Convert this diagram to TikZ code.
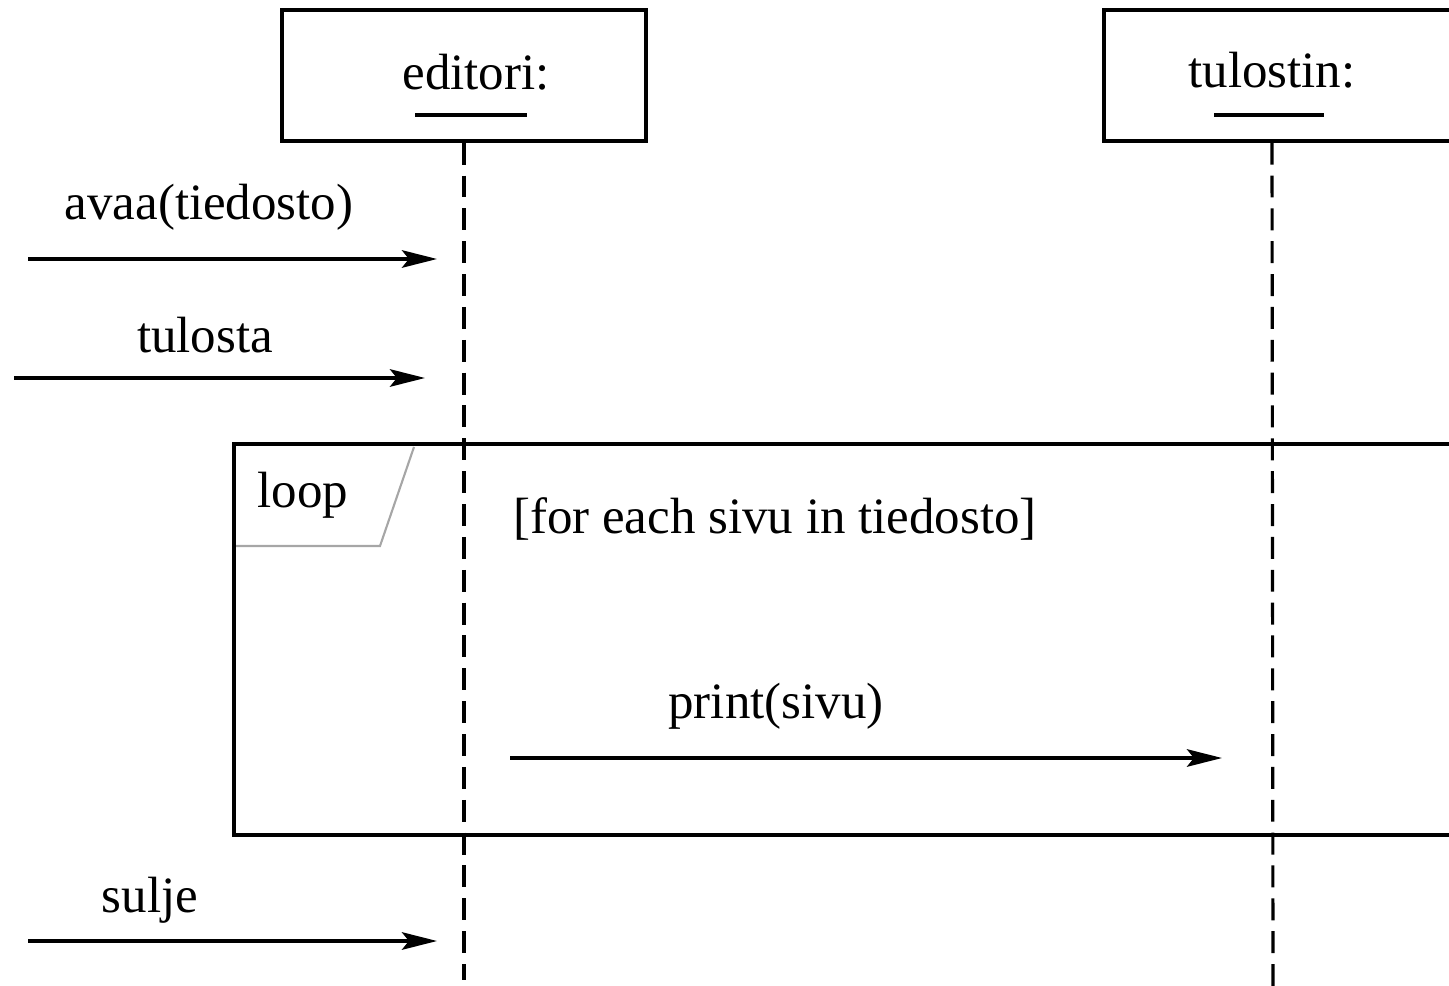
\documentclass[tikz,border=0pt]{standalone}
\usepackage{fontspec}
\setmainfont{Liberation Serif}
\usetikzlibrary{arrows.meta,calc}
\begin{document}
\begin{tikzpicture}[x=0.02cm, y=-0.02cm,
    objbox/.style={draw, line width=1.9pt, minimum width=7.28cm, minimum height=2.62cm},
    lifeline/.style={line width=1.8pt, dash pattern=on 12.5pt off 6.2pt},
    msg/.style={line width=1.8pt, -{Stealth[length=20pt, width=10pt, inset=4pt]}},
    lbl/.style={anchor=base, inner sep=0pt, font=\fontsize{29}{34}\selectfont},
    uline/.style={line width=2.2pt},
    frame/.style={line width=2.2pt},
    tag/.style={line width=1.2pt, draw=black!35}]
    \clip (0,0) rectangle (1449,986);

    % Objects
    \node[objbox] (editori) at (464,75.5) {};
    \node[objbox] (tulostin) at (1286,75.5) {};
    \node[lbl] (edname) at (476,90) {editori:};
    \node[lbl] (tuname) at (1272,88) {tulostin:};
    \draw[uline] ($(edname.base)+(-61,25)$) -- ($(edname.base)+(51,25)$);
    \draw[uline] ($(tuname.base)+(-58,27)$) -- ($(tuname.base)+(52,27)$);

    % Lifelines
    \coordinate (edend) at (464,980);
    \coordinate (tuend) at (1273,990);
    \draw[lifeline] (editori.south) -- (edend);
    \draw[lifeline] (tuname |- tulostin.south) -- (tuend);

    % Messages to editori
    \coordinate (avaa0) at (28,259);
    \coordinate (avaa1) at (437,259);
    \draw[msg] (avaa0) -- (avaa1);
    \node[lbl] (avaa) at (209,220) {avaa(tiedosto)};

    \coordinate (tulosta0) at (14,378);
    \coordinate (tulosta1) at (425,378);
    \draw[msg] (tulosta0) -- (tulosta1);
    \node[lbl] (tulosta) at (205,352) {tulosta};

    % Loop fragment
    \draw[tag] (234,546) -- (380,546) -- (414,447);
    \draw[frame] (234,444) rectangle (1470,835);
    \node[lbl] (loop) at (303,507) {loop};
    \node[lbl] (guard) at (775,533) {[for each sivu in tiedosto]};

    \coordinate (print0) at (510,758);
    \coordinate (print1) at (1222,758);
    \draw[msg] (print0) -- (print1);
    \node[lbl] (print) at (776,718) {print(sivu)};

    % Closing
    \coordinate (sulje0) at (28,941);
    \coordinate (sulje1) at (437,941);
    \draw[msg] (sulje0) -- (sulje1);
    \node[lbl] (sulje) at (150,912) {sulje};
\end{tikzpicture}
\end{document}
